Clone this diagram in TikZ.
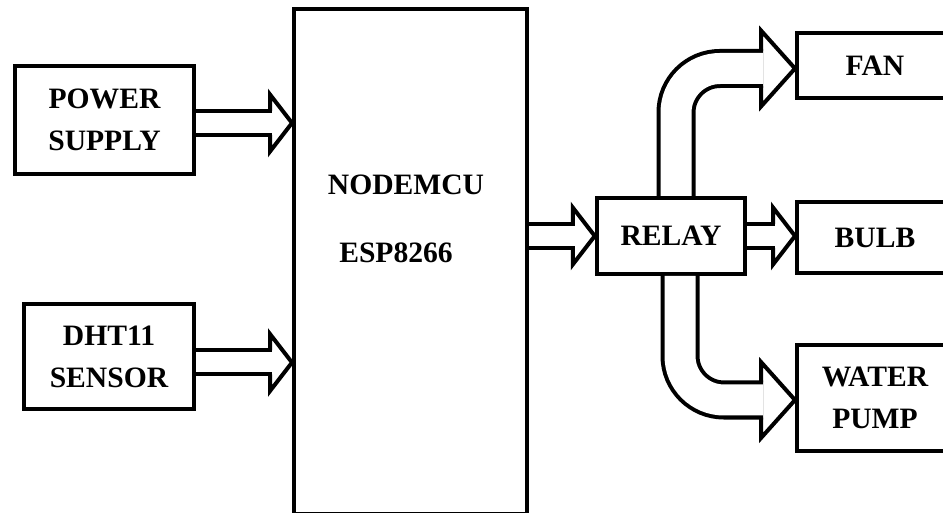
\documentclass[tikz,border=0pt]{standalone}
\usepackage{fontspec}
\setmainfont{Liberation Serif}
\usetikzlibrary{calc}

\tikzset{
  block/.style={draw, line width=2pt, fill=white, inner sep=0pt, align=center,
    font=\bfseries\fontsize{14.8}{21}\selectfont},
  blocktext/.style={anchor=base, inner sep=0pt, font=\bfseries\fontsize{14.8}{21}\selectfont},
  shaft/.style={line width=2pt, double=white, double distance=10pt},
  bendshaft/.style={line width=2pt, double=white, double distance=15.5pt, rounded corners=22pt},
  head/.style={line width=2pt, line join=miter},
}

\begin{document}
\begin{tikzpicture}[x=0.5pt, y=-0.5pt]
		\useasboundingbox (0,0) rectangle (943,513);
		
		% Blocks
		\node[block, minimum width=89.5pt, minimum height=54pt] (power) at (104.5,120) {POWER\\SUPPLY};
		\node[block, minimum width=85pt, minimum height=52.5pt] (dht) at (109,356.5) {DHT11\\SENSOR};
		\node[block, minimum width=116.5pt, minimum height=252.5pt] (mcu) at (410.5,261.5) {};
		\node[blocktext] (mcuname) at (406,195) {NODEMCU};
		\node[blocktext] (mcuchip) at (396,263) {ESP8266};
		\node[block, minimum width=74.25pt, minimum height=38pt] (relay) at (671,236) {RELAY};
		\node[block, minimum width=78pt, minimum height=32.5pt] (fan) at (875,65.5) {FAN};
		\node[block, minimum width=78pt, minimum height=35.5pt] (bulb) at (875,237.5) {BULB};
		\node[block, minimum width=78pt, minimum height=52.5pt] (pump) at (875,398) {WATER\\PUMP};
		
		% Tips
		\coordinate (pwout) at ([yshift=-1.5pt]power.east);
		\coordinate (pwtip) at (pwout -| mcu.west);
		\coordinate (dhtout) at ([yshift=-3pt]dht.east);
		\coordinate (dhttip) at (dhtout -| mcu.west);
		\coordinate (mcutip) at (relay.west);
		\coordinate (bulbtip) at (relay.east -| bulb.west);
		\coordinate (fantip) at ([yshift=-1.5pt]fan.west);
		\coordinate (pumptip) at ([yshift=-1pt]pump.west);
		
		% Inputs
		\draw[shaft] (pwout) -- ($(pwtip)+(-20,0)$);
		\draw[head] ($(pwtip)+(-22,-12)$) -- ++(0,-16.5) -- (pwtip) -- ($(pwtip)+(-22,28.5)$) -- ++(0,-16.5);
		\draw[shaft] (dhtout) -- ($(dhttip)+(-20,0)$);
		\draw[head] ($(dhttip)+(-22,-12)$) -- ++(0,-16.5) -- (dhttip) -- ($(dhttip)+(-22,28.5)$) -- ++(0,-16.5);
		
		% Relay
		\draw[shaft] (mcutip -| mcu.east) -- ($(mcutip)+(-20,0)$);
		\draw[head] ($(mcutip)+(-22,-12)$) -- ++(0,-16.5) -- (mcutip) -- ($(mcutip)+(-22,28.5)$) -- ++(0,-16.5);
		
		% Outputs
		\draw[shaft] (relay.east) -- ($(bulbtip)+(-20,0)$);
		\draw[head] ($(bulbtip)+(-22,-12)$) -- ++(0,-16.5) -- (bulbtip) -- ($(bulbtip)+(-22,28.5)$) -- ++(0,-16.5);
		\draw[bendshaft] ([xshift=2.5pt]relay.north) |- ($(fantip)+(-32,0)$);
		\draw[head] ($(fantip)+(-34,-17.5)$) -- ++(0,-20.5) -- (fantip) -- ($(fantip)+(-34,38)$) -- ++(0,-20.5);
		\draw[bendshaft] ([xshift=4.5pt]relay.south) |- ($(pumptip)+(-32,0)$);
		\draw[head] ($(pumptip)+(-34,-17.5)$) -- ++(0,-20.5) -- (pumptip) -- ($(pumptip)+(-34,38)$) -- ++(0,-20.5);
	\end{tikzpicture}
\end{document}
